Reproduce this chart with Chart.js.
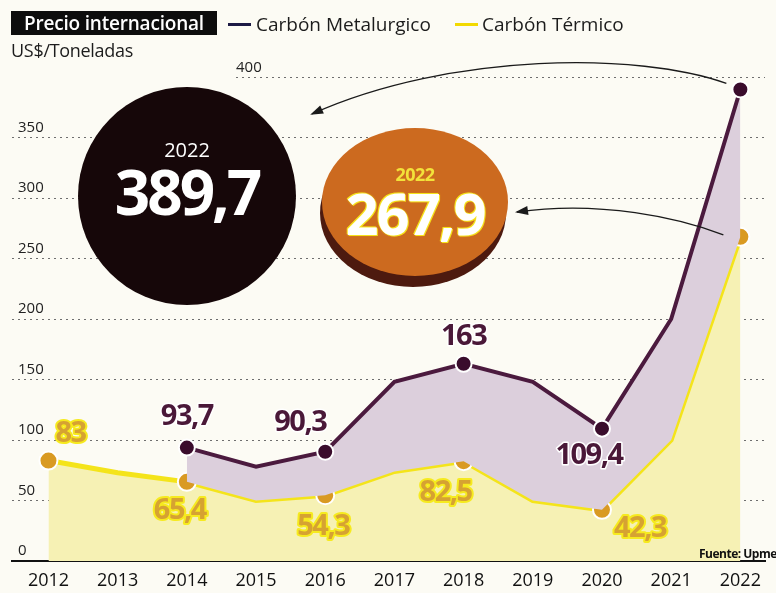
<!DOCTYPE html>
<html><head><meta charset="utf-8">
<script src="https://cdn.jsdelivr.net/npm/chart.js@4.4.1/dist/chart.umd.min.js"></script>
<style>
html,body{margin:0;padding:0;background:#fcfbf4;}
#wrap{position:relative;width:776px;height:593px;overflow:hidden;font-family:"Open Sans",sans-serif;}
canvas{position:absolute;left:0;top:0;}
.abs{position:absolute;white-space:nowrap;}
#title{left:11px;top:11px;height:24px;width:206px;background:#0d0d0d;color:#fff;font-weight:600;font-size:19px;line-height:24px;text-align:center;letter-spacing:-0.2px;}
.lg{top:10px;font-size:19px;line-height:28px;color:#1c1c1c;}
.lgline{height:3px;width:23px;top:23px;}
#unit{left:11px;top:37px;font-size:18px;line-height:26px;color:#1c1c1c;letter-spacing:-0.3px;}
#src{left:699px;top:545px;font-size:12px;font-weight:700;color:#111;letter-spacing:-0.5px;}
#bigc{left:78px;top:87px;width:218px;height:218px;border-radius:50%;background:#160709;}
#coin{left:322px;top:128px;width:186px;height:148px;border-radius:50%;background:#cc6a1f;box-shadow:-2px 11px 0 #4d1a0f;}
.ctxt{left:0;width:100%;text-align:center;}
</style></head>
<body><div id="wrap">
<canvas id="c" width="776" height="593"></canvas>
<div id="title" class="abs">Precio internacional</div>
<div class="abs lgline" style="left:228px;background:#1c1a45;"></div>
<div class="abs lg" style="left:256px;">Carbón Metalurgico</div>
<div class="abs lgline" style="left:455px;background:#f2d900;"></div>
<div class="abs lg" style="left:482px;">Carbón Térmico</div>
<div id="unit" class="abs">US$/Toneladas</div>
<div id="bigc" class="abs">
  <div class="abs ctxt" style="top:50px;font-size:20px;line-height:26px;color:#fff;">2022</div>
  <div class="abs ctxt" style="top:66px;font-size:62px;line-height:76px;font-weight:700;color:#fff;letter-spacing:-3px;">389,7</div>
</div>
<div id="coin" class="abs">
  <div class="abs ctxt" style="top:34px;font-size:18px;line-height:24px;font-weight:700;color:#f2e23a;letter-spacing:-0.5px;">2022</div>
  <div class="abs ctxt" style="top:50px;font-size:58px;line-height:70px;font-weight:700;color:#fff;letter-spacing:-2px;text-shadow:0 0 2px #f5e21c,1px 1px 0 #f5e21c,-1px -1px 0 #f5e21c;">267,9</div>
</div>
<div id="src" class="abs">Fuente: Upme</div>
</div>
<script>
const years = [2012,2013,2014,2015,2016,2017,2018,2019,2020,2021,2022];
const metalurgico = [null,null,93.7,78,90.3,148,163,148,109.4,200,389.7];
const termico = [83,73,65.4,50,54.3,74,82.5,50,42.3,100,267.9];
const metLabels = [null,null,'93,7',null,'90,3',null,'163',null,'109,4',null,null];
const termLabels = ['83',null,'65,4',null,'54,3',null,'82,5',null,'42,3',null,null];
const metMarkers = [0,0,1,0,1,0,1,0,1,0,1];
const termMarkers = [1,0,1,0,1,0,1,0,1,0,1];
const yTicks = [0,50,100,150,200,250,300,350,400];

const metOffsets = {2:[0,-31],4:[-25,-29],6:[0,-27],8:[-13,27]};
const termOffsets = {0:[22,-27],2:[-7,29],4:[-2,31],6:[-18,32],8:[38,19]};

const metPts = years.map((x,i)=>({x:x,y:metalurgico[i]}));
const termPts = years.map((x,i)=>({x:x,y:termico[i]}));

function arrow(ctx,p0,c1,c2,p3){
  ctx.beginPath();ctx.moveTo(p0[0],p0[1]);ctx.bezierCurveTo(c1[0],c1[1],c2[0],c2[1],p3[0],p3[1]);ctx.stroke();
  const ang=Math.atan2(p3[1]-c2[1],p3[0]-c2[0]);
  const L=11,W=4.5;
  ctx.beginPath();
  ctx.moveTo(p3[0]+Math.cos(ang)*2,p3[1]+Math.sin(ang)*2);
  ctx.lineTo(p3[0]-Math.cos(ang)*L-Math.sin(ang)*W,p3[1]-Math.sin(ang)*L+Math.cos(ang)*W);
  ctx.lineTo(p3[0]-Math.cos(ang)*L+Math.sin(ang)*W,p3[1]-Math.sin(ang)*L-Math.cos(ang)*W);
  ctx.closePath();ctx.fill();
}

const deco = {
  id:'deco',
  beforeDatasetsDraw(chart){
    const {ctx, chartArea, scales:{y}} = chart;
    const py = Math.round(y.getPixelForValue(400))+0.5;
    ctx.save();
    ctx.strokeStyle='#6e6e6e';ctx.lineWidth=1;ctx.setLineDash([2,4]);
    ctx.beginPath();ctx.moveTo(236,py);ctx.lineTo(chartArea.right,py);ctx.stroke();
    ctx.setLineDash([]);
    ctx.fillStyle='#222';ctx.font='15px "Open Sans"';ctx.textBaseline='middle';ctx.textAlign='left';
    ctx.fillText('400',236,py-10);
    ctx.restore();
  },
  afterDatasetsDraw(chart){
    const ctx = chart.ctx;
    const mm = chart.getDatasetMeta(0).data;
    const tm = chart.getDatasetMeta(1).data;
    ctx.save();
    ctx.textAlign='center';ctx.textBaseline='middle';
    ctx.lineJoin='round';
    ctx.font='700 29px "Open Sans"';
    try{ctx.letterSpacing='-1.5px';}catch(e){}
    metLabels.forEach((t,i)=>{
      if(!t) return;
      const p=mm[i], o=metOffsets[i];
      const x=p.x+o[0], yy=p.y+o[1];
      ctx.strokeStyle='#ffffff';ctx.lineWidth=3;ctx.strokeText(t,x,yy);
      ctx.fillStyle='#4a1838';ctx.fillText(t,x,yy);
    });
    termLabels.forEach((t,i)=>{
      if(!t) return;
      const p=tm[i], o=termOffsets[i];
      const x=p.x+o[0], yy=p.y+o[1];
      ctx.strokeStyle='#f6ea1e';ctx.lineWidth=4;ctx.strokeText(t,x,yy);
      ctx.fillStyle='#d6a232';ctx.fillText(t,x,yy);
    });
    try{ctx.letterSpacing='0px';}catch(e){}
    ctx.strokeStyle='#1a1a1a';ctx.fillStyle='#1a1a1a';ctx.lineWidth=1.3;
    const a=mm[10], b=tm[10];
    arrow(ctx,[a.x-14,a.y-6],[640,52],[450,52],[312,114]);
    arrow(ctx,[b.x-17,b.y-2],[680,218],[600,200],[517,212]);
    ctx.restore();
  }
};

new Chart(document.getElementById('c'),{
  type:'line',
  data:{datasets:[
    {label:'Carbón Metalurgico',data:metPts,borderColor:'#4b1a3e',borderWidth:4,fill:'+1',
     backgroundColor:'#dccfdc',pointRadius:c=>metMarkers[c.dataIndex]?8:0,
     pointBackgroundColor:'#3a0c2c',pointBorderColor:'#ffffff',pointBorderWidth:2,order:1,tension:0},
    {label:'Carbón Térmico',data:termPts,borderColor:'#f4e41a',borderWidth:5,fill:'origin',
     backgroundColor:'#f6f1b4',pointRadius:c=>termMarkers[c.dataIndex]?9:0,
     pointBackgroundColor:'#d99a22',pointBorderColor:'#ffffff',pointBorderWidth:2,order:2,tension:0},
    {label:'edge',data:termPts,borderColor:'#b89a30',borderWidth:1.2,fill:false,pointRadius:0,order:3,tension:0}
  ]},
  options:{
    responsive:false,animation:false,devicePixelRatio:1,
    layout:{padding:{top:77,right:0,left:0,bottom:0}},
    plugins:{legend:{display:false},tooltip:{enabled:false}},
    elements:{line:{borderJoinStyle:'miter'}},
    clip:false,
    scales:{
      x:{type:'linear',min:2011.473,max:2022.356,
        afterBuildTicks:ax=>{ax.ticks=years.map(v=>({value:v}));},
        afterFit:ax=>{ax.height=32;},
        grid:{display:false,drawTicks:false},
        border:{display:true,color:'#111',width:2},
        ticks:{callback:v=>String(v),font:{family:'"Open Sans"',size:18},color:'#111',padding:9,maxRotation:0,autoSkip:false}
      },
      y:{type:'linear',min:0,max:400,
        afterBuildTicks:ax=>{ax.ticks=yTicks.map(v=>({value:v}));},
        afterFit:ax=>{ax.width=12;},
        grid:{color:c=>(c.tick&&(c.tick.value===400||c.tick.value===0))?'rgba(0,0,0,0)':'#6e6e6e',lineWidth:1,drawTicks:false},
        border:{display:false,dash:[2,4]},
        ticks:{mirror:true,padding:6,labelOffset:-10,callback:v=>v===400?'':String(v),font:{family:'"Open Sans"',size:15},color:'#222'}
      }
    }
  },
  plugins:[deco]
});
</script>
</body></html>
